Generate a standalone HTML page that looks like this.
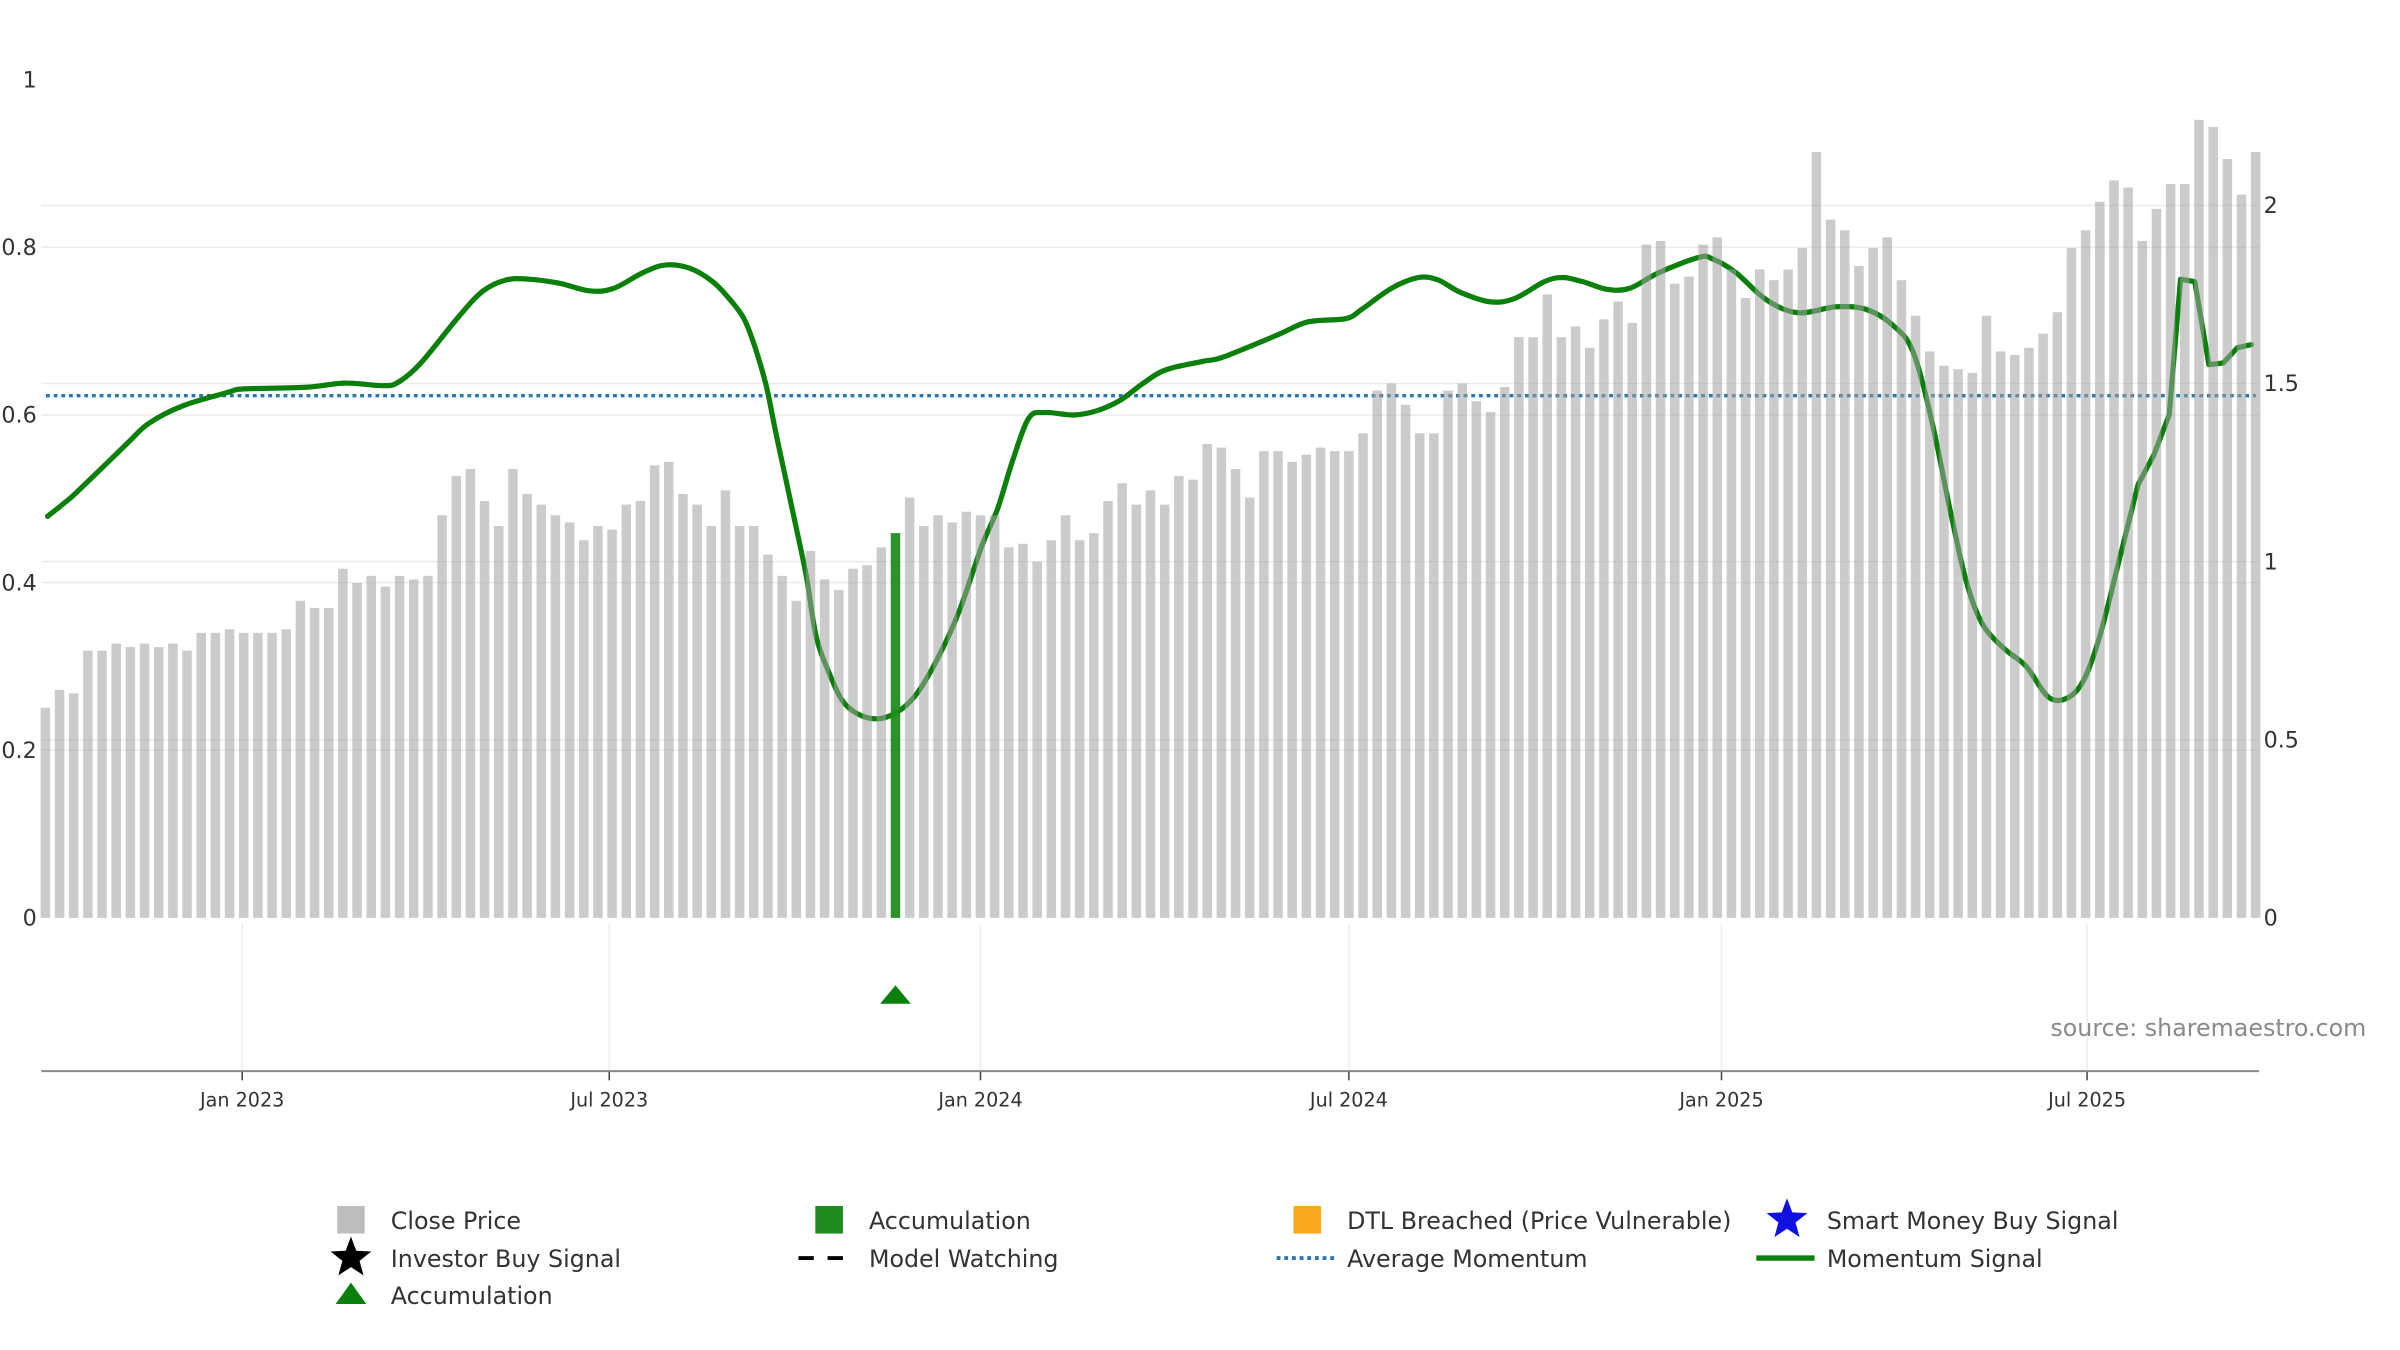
<!DOCTYPE html>
<html><head><meta charset="utf-8"><style>
html,body{margin:0;padding:0;background:#fff;}
svg{display:block;font-family:"DejaVu Sans","Liberation Sans",sans-serif;}
</style></head><body>
<svg id="chart" width="2400" height="1350" viewBox="0 0 1566 881" preserveAspectRatio="none" xmlns="http://www.w3.org/2000/svg">
<g id="grid"></g>
<g id="lines"></g>
<g id="bars"></g>
<g id="axes"></g>
<g id="legend"></g>
<text x="1544" y="676" text-anchor="end" font-size="15.5" fill="#8a8a8a">source: sharemaestro.com</text>
</svg>
<script>
const closePrice = [0.59,0.64,0.63,0.75,0.75,0.77,0.76,0.77,0.76,0.77,0.75,0.80,0.80,0.81,0.80,0.80,0.80,0.81,0.89,0.87,0.87,0.98,0.94,0.96,0.93,0.96,0.95,0.96,1.13,1.24,1.26,1.17,1.10,1.26,1.19,1.16,1.13,1.11,1.06,1.10,1.09,1.16,1.17,1.27,1.28,1.19,1.16,1.10,1.20,1.10,1.10,1.02,0.96,0.89,1.03,0.95,0.92,0.98,0.99,1.04,1.08,1.18,1.10,1.13,1.11,1.14,1.13,1.13,1.04,1.05,1.00,1.06,1.13,1.06,1.08,1.17,1.22,1.16,1.20,1.16,1.24,1.23,1.33,1.32,1.26,1.18,1.31,1.31,1.28,1.30,1.32,1.31,1.31,1.36,1.48,1.50,1.44,1.36,1.36,1.48,1.50,1.45,1.42,1.49,1.63,1.63,1.75,1.63,1.66,1.60,1.68,1.73,1.67,1.89,1.90,1.78,1.80,1.89,1.91,1.82,1.74,1.82,1.79,1.82,1.88,2.15,1.96,1.93,1.83,1.88,1.91,1.79,1.69,1.59,1.55,1.54,1.53,1.69,1.59,1.58,1.60,1.64,1.70,1.88,1.93,2.01,2.07,2.05,1.90,1.99,2.06,2.06,2.24,2.22,2.13,2.03,2.15];
const accumulationWeeks = [60];
const momWeek = [0.15,1.9,3.7,5.9,7.3,9.7,12.9,14.0,18.4,21.1,23.8,24.9,26.5,29.2,30.9,32.5,34.1,36.3,38.4,40.1,42.2,43.8,45.5,47.1,48.2,49.3,50.1,50.9,51.7,52.8,53.7,54.4,55.3,56.4,58.0,59.6,61.3,62.9,64.5,66.1,67.2,68.3,69.4,70.5,72.6,74.2,75.9,77.5,79.1,81.7,83.1,86.9,89.1,91.8,92.9,95.0,96.9,98.3,99.9,102.0,103.7,105.8,107.1,108.5,110.2,111.8,113.9,116.7,117.7,119.3,121.5,123.7,126.4,128.5,130.4,131.8,133.1,134.5,135.6,136.7,138.2,139.8,141.4,142.8,143.9,145.0,146.3,147.7,148.8,149.9,150.7,151.7,152.7,153.7,154.7,155.7];
const momValue = [0.479,0.503,0.532,0.568,0.590,0.611,0.627,0.631,0.633,0.638,0.635,0.639,0.662,0.718,0.748,0.761,0.762,0.757,0.748,0.751,0.770,0.779,0.775,0.759,0.740,0.715,0.680,0.633,0.567,0.481,0.408,0.336,0.293,0.256,0.239,0.241,0.263,0.307,0.366,0.444,0.488,0.547,0.596,0.603,0.600,0.605,0.618,0.638,0.654,0.664,0.669,0.695,0.711,0.715,0.726,0.751,0.764,0.761,0.746,0.735,0.739,0.759,0.764,0.759,0.750,0.751,0.770,0.788,0.786,0.770,0.737,0.722,0.729,0.726,0.707,0.676,0.596,0.481,0.400,0.351,0.322,0.300,0.263,0.263,0.285,0.336,0.422,0.517,0.552,0.600,0.762,0.759,0.660,0.662,0.680,0.684];
const avgMomentum = 0.623;
const leftTicks = [0,0.2,0.4,0.6,0.8,1];
const leftTickLabels = ["0","0.2","0.4","0.6","0.8","1"];
const rightTicks = [0,0.5,1,1.5,2];
const rightTickLabels = ["0","0.5","1","1.5","2"];
const dateTickWeeks = [13.89,39.8,66.0,92.0,118.3,144.1];
const dateTickLabels = ["Jan 2023","Jul 2023","Jan 2024","Jul 2024","Jan 2025","Jul 2025"];

const NS="http://www.w3.org/2000/svg";
const X0=29.6, XW=9.245, Y0=599, L0=27, R0=1474;
const xw = w => X0 + w*XW;
const yL = v => Y0 - v*547;
const yR = v => Y0 - v*232.5;
function mk(tag, attrs, parent){const e=document.createElementNS(NS,tag);for(const k in attrs)e.setAttribute(k,attrs[k]);parent.appendChild(e);return e;}
const grid=document.getElementById('grid'), lines=document.getElementById('lines'), bars=document.getElementById('bars'), axes=document.getElementById('axes'), legend=document.getElementById('legend');

leftTicks.forEach((t,i)=>{
  if(t>0 && t<1){const g=mk('line',{x1:L0,x2:R0,y1:yL(t),y2:yL(t),stroke:'#ececef','stroke-width':1},grid);
  
  }
  const tx=mk('text',{x:24,y:yL(t)+5,'text-anchor':'end','font-size':14.5,fill:'#333'},axes);tx.textContent=leftTickLabels[i];
  
  
});
rightTicks.forEach((t,i)=>{
  if(t>0){const g=mk('line',{x1:L0,x2:R0,y1:yR(t),y2:yR(t),stroke:'#ececef','stroke-width':1},grid);
  
  }
  const tx=mk('text',{x:1477,y:yR(t)+5,'font-size':14.5,fill:'#333'},axes);tx.textContent=rightTickLabels[i];
  
  
});
dateTickWeeks.forEach((w,i)=>{
  const x=xw(w);
  const g=mk('line',{x1:x,x2:x,y1:603,y2:699,stroke:'#eeeef0','stroke-width':1},grid);
  
  
  const tk=mk('line',{x1:x,x2:x,y1:699,y2:705,stroke:'#444','stroke-width':1},axes);
  
  
  const tx=mk('text',{x:x,y:722,'text-anchor':'middle','font-size':12.5,fill:'#333'},axes);tx.textContent=dateTickLabels[i];
  
  
});
const ax=mk('line',{x1:L0,x2:R0,y1:699,y2:699,stroke:'#888','stroke-width':1.3},axes);



const avg=mk('line',{x1:L0+3,x2:R0-2,y1:yL(avgMomentum),y2:yL(avgMomentum),stroke:'#2a77a8','stroke-width':2.2,'stroke-dasharray':'2.5 2.5'},lines);


const pts=momWeek.map((w,i)=>[xw(w),yL(momValue[i])]);
let d='M'+pts[0][0].toFixed(1)+','+pts[0][1].toFixed(1);
for(let i=0;i<pts.length-1;i++){
  const p0=pts[Math.max(0,i-1)],p1=pts[i],p2=pts[i+1],p3=pts[Math.min(pts.length-1,i+2)];
  if(momWeek[i]>=146){d+='L'+p2[0].toFixed(1)+','+p2[1].toFixed(1);continue;}
  const c1=[p1[0]+(p2[0]-p0[0])/6,p1[1]+(p2[1]-p0[1])/6],c2=[p2[0]-(p3[0]-p1[0])/6,p2[1]-(p3[1]-p1[1])/6];
  d+='C'+c1[0].toFixed(1)+','+c1[1].toFixed(1)+' '+c2[0].toFixed(1)+','+c2[1].toFixed(1)+' '+p2[0].toFixed(1)+','+p2[1].toFixed(1);
}
const ml=mk('path',{d:d,fill:'none',stroke:'#0a800a','stroke-width':3.4,'stroke-linejoin':'round','stroke-linecap':'round'},lines);



closePrice.forEach((p,i)=>{
  const acc=accumulationWeeks.includes(i);
  const b=mk('rect',{x:xw(i)-3.1,y:yR(p),width:6.2,height:Y0-yR(p),fill:acc?'#1e8c1e':'#a0a0a0','fill-opacity':acc?0.95:0.55},bars);
  
  
});
accumulationWeeks.forEach(w=>{
  const x=xw(w);
  const tr=mk('polygon',{points:`${x-10},655 ${x+10},655 ${x},643`,fill:'#0a800a'},bars);
  
  
});

function star(cx,cy,r,fill){let ps=[];for(let k=0;k<10;k++){const a=-Math.PI/2+k*Math.PI/5;const rr=k%2?r*0.42:r;ps.push((cx+rr*Math.cos(a)).toFixed(1)+','+(cy+rr*Math.sin(a)).toFixed(1));}return mk('polygon',{points:ps.join(' '),fill:fill},legend);}
const items=[
 {x:229,y:796,t:'Close Price',n:'legend-close-price'},
 {x:541,y:796,t:'Accumulation',n:'legend-accumulation-bar'},
 {x:853,y:796,t:'DTL Breached (Price Vulnerable)',n:'legend-dtl-breached'},
 {x:1166,y:796,t:'Smart Money Buy Signal',n:'legend-smart-money'},
 {x:229,y:821,t:'Investor Buy Signal',n:'legend-investor-buy'},
 {x:541,y:821,t:'Model Watching',n:'legend-model-watching'},
 {x:853,y:821,t:'Average Momentum',n:'legend-average-momentum'},
 {x:1166,y:821,t:'Momentum Signal',n:'legend-momentum-signal'},
 {x:229,y:845,t:'Accumulation',n:'legend-accumulation-marker'}];
items.forEach((it,i)=>{
  let m;
  if(i===0)m=mk('rect',{x:it.x-9,y:it.y-9,width:18,height:18,fill:'#bdbdbd'},legend);
  if(i===1)m=mk('rect',{x:it.x-9,y:it.y-9,width:18,height:18,fill:'#1e8c1e'},legend);
  if(i===2)m=mk('rect',{x:it.x-9,y:it.y-9,width:18,height:18,fill:'#fba91c'},legend);
  if(i===3)m=star(it.x,it.y,14,'#1010e0');
  if(i===4)m=star(it.x,it.y,14,'#000');
  if(i===5)m=mk('line',{x1:it.x-20,x2:it.x+18,y1:it.y,y2:it.y,stroke:'#000','stroke-width':2.5,'stroke-dasharray':'10 9'},legend);
  if(i===6)m=mk('line',{x1:it.x-20,x2:it.x+18,y1:it.y,y2:it.y,stroke:'#2a77a8','stroke-width':2.5,'stroke-dasharray':'2.5 2.5'},legend);
  if(i===7)m=mk('line',{x1:it.x-20,x2:it.x+18,y1:it.y,y2:it.y,stroke:'#0a800a','stroke-width':3.5},legend);
  if(i===8)m=mk('polygon',{points:`${it.x-10},${it.y+6} ${it.x+10},${it.y+6} ${it.x},${it.y-8}`,fill:'#0a800a'},legend);
  
  
  const tx=mk('text',{x:it.x+26,y:it.y+6,'font-size':15.5,fill:'#333'},legend);tx.textContent=it.t;
  
  
});
</script>
</body></html>
